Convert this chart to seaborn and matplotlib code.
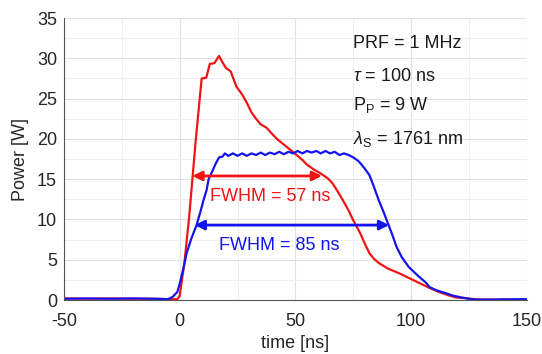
import numpy as np
import pandas as pd
import seaborn as sns
import matplotlib.pyplot as plt
from matplotlib.ticker import MultipleLocator

# pulse traces
red_t = [-50, -40, -30, -20, -10, -4, -1, 0, 2, 4, 5.5, 7, 8.5, 9.5, 11.5, 13, 15, 17,
         18.5, 20, 22, 24.5, 27, 29, 31, 33, 35, 37.5, 40, 42, 45, 48, 50.5, 53, 55,
         58, 61, 64, 66, 68, 70.5, 73, 75, 78, 80, 82, 84, 86, 90, 95, 100, 103.6,
         108, 112, 116, 119.6, 123, 126, 130, 140, 150]
red_p = [0.2, 0.15, 0.2, 0.15, 0.15, 0.1, 0.1, 0.5, 4.5, 10, 15, 20, 24.5, 27.5, 27.6,
         29.3, 29.4, 30.3, 29.5, 28.8, 28.4, 26.5, 25.5, 24.5, 23.3, 22.5, 21.8, 21.4,
         20.6, 20.0, 19.3, 18.6, 18.0, 17.4, 16.8, 16.2, 15.7, 15.1, 14.5, 13.6, 12.4,
         11.1, 9.9, 8.3, 7.0, 5.8, 5.1, 4.6, 3.9, 3.3, 2.6, 2.1, 1.5, 1.0, 0.6, 0.3,
         0.25, 0.15, 0.05, 0.05, 0.05]

blue_t = [-50, -40, -30, -20, -10, -5, -3, -1, 0, 1.5, 3, 5, 7.3, 9, 10.5, 11.6, 12.5,
          14.3, 15.5, 17, 18.5, 19.5, 21, 23, 25, 27, 29, 31, 33, 35, 37, 39, 41, 43,
          45, 47, 49, 51, 53, 55, 57, 59, 61, 63, 65, 67, 69, 71, 73, 75, 77, 78, 80,
          82, 84, 86, 88, 90, 92, 93.7, 96, 99, 103, 106.6, 108, 111, 115, 118, 122,
          126, 128, 135, 140, 150]
blue_p = [0.15, 0.2, 0.15, 0.2, 0.15, 0.1, 0.4, 1.0, 2.0, 3.8, 5.8, 7.6, 9.3, 11, 12.6,
          13.6, 15, 16.1, 16.9, 17.7, 17.8, 18.2, 17.9, 18.2, 17.9, 18.2, 17.9, 18.2,
          18.0, 18.3, 18.0, 18.3, 18.1, 18.4, 18.1, 18.4, 18.2, 18.5, 18.2, 18.5, 18.3,
          18.5, 18.2, 18.5, 18.2, 18.4, 18.0, 18.2, 18.0, 17.7, 17.3, 17.0, 16.3, 15.5,
          14.0, 12.4, 11.0, 9.5, 8.0, 6.6, 5.3, 4.1, 3.0, 2.1, 1.6, 1.2, 0.85, 0.55,
          0.3, 0.1, 0.05, 0.05, 0.08, 0.1]

# FWHM markers: (start, end, level)
red_fwhm = (5.5, 61.5, 15.4)
blue_fwhm = (6.5, 90.5, 9.3)

RED = '#f01414'
BLUE = '#1414f0'
FS = 13

sns.set_theme(style='white')
plt.rcParams['font.family'] = ['Liberation Sans', 'DejaVu Sans']
plt.rcParams['mathtext.fontset'] = 'custom'
plt.rcParams['mathtext.rm'] = 'Liberation Sans'
plt.rcParams['mathtext.it'] = 'Liberation Sans:italic'
plt.rcParams['axes.unicode_minus'] = False

df = pd.concat([
    pd.DataFrame({'time': red_t, 'power': red_p, 'trace': 'red'}),
    pd.DataFrame({'time': blue_t, 'power': blue_p, 'trace': 'blue'}),
])

fig = plt.figure(figsize=(5.42, 3.54), dpi=100)
ax = fig.add_axes([0.118, 0.1525, 0.854, 0.7965])

sns.lineplot(data=df, x='time', y='power', hue='trace', palette={'red': RED, 'blue': BLUE},
             hue_order=['red', 'blue'], linewidth=1.6, legend=False, ax=ax, sort=False)

ax.set_xlim(-50, 150)
ax.set_ylim(0, 35)
ax.xaxis.set_major_locator(MultipleLocator(50))
ax.xaxis.set_minor_locator(MultipleLocator(25))
ax.yaxis.set_major_locator(MultipleLocator(5))
ax.yaxis.set_minor_locator(MultipleLocator(2.5))
ax.grid(True, which='major', color='#e2e2e2', linewidth=0.8)
ax.grid(True, which='minor', color='#f0f0f0', linewidth=0.7)
ax.set_axisbelow(True)

for side in ['top', 'right']:
    ax.spines[side].set_visible(False)
for side in ['left', 'bottom']:
    ax.spines[side].set_color('#555555')
    ax.spines[side].set_linewidth(0.8)

ax.tick_params(which='major', direction='in', length=3, width=0.8, color='#555555',
               labelsize=FS, labelcolor='#262626')
ax.tick_params(axis='x', which='major', pad=9)
ax.tick_params(axis='y', which='major', pad=5)
ax.tick_params(which='minor', length=0)
ax.set_xlabel('time [ns]', fontsize=FS, color='#262626', labelpad=4)
ax.set_ylabel('Power [W]', fontsize=FS, color='#262626', labelpad=6)

# FWHM arrows
for (x0, x1, lvl), col in [(red_fwhm, RED), (blue_fwhm, BLUE)]:
    ax.annotate('', xy=(x0, lvl), xytext=(x1, lvl),
                arrowprops=dict(arrowstyle='<|-|>', color=col, lw=2,
                                mutation_scale=14, shrinkA=0, shrinkB=0))

ax.text(39.3, 12.8, 'FWHM = 57 ns', color=RED, fontsize=FS, ha='center', va='center')
ax.text(43, 6.8, 'FWHM = 85 ns', color=BLUE, fontsize=FS, ha='center', va='center')

ax.text(75, 31.9, 'PRF = 1 MHz', fontsize=FS, color='#1a1a1a', va='center')
ax.text(75, 27.7, r'$\it{\tau}$ = 100 ns', fontsize=FS, color='#1a1a1a', va='center')
ax.text(75, 24.2, r'P$_\mathrm{P}$ = 9 W', fontsize=FS, color='#1a1a1a', va='center')
ax.text(75, 20.0, r'$\lambda_\mathrm{S}$ = 1761 nm', fontsize=FS, color='#1a1a1a', va='center')

fig.savefig('out.png', dpi=100)
